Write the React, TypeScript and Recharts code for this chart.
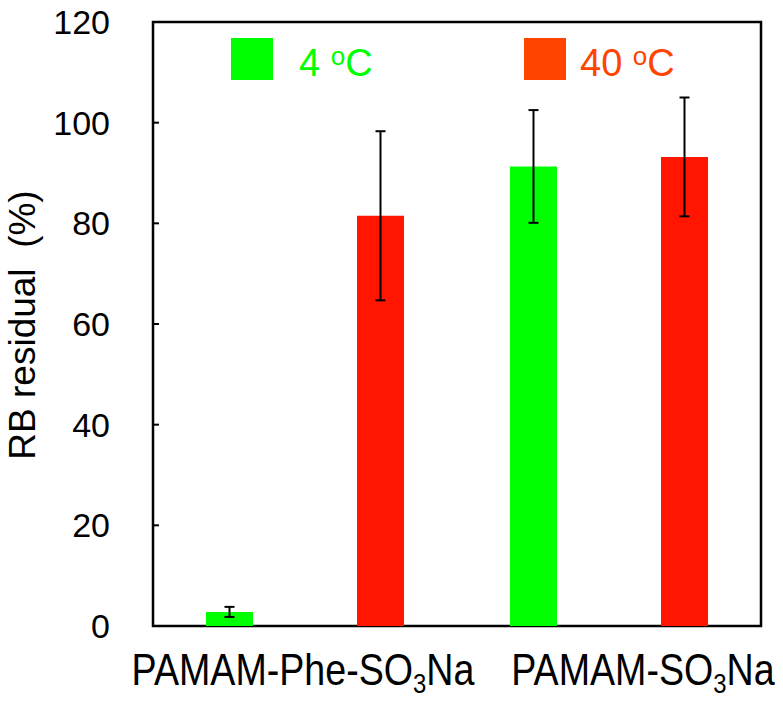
import React from "react";
import {
  BarChart,
  Bar,
  XAxis,
  YAxis,
  ErrorBar,
  ReferenceArea,
  Legend,
} from "recharts";

const categories = ["PAMAM-Phe-SO3Na", "PAMAM-SO3Na"];
const cold = [2.8, 91.3];
const coldErr = [1.0, 11.2];
const hot = [81.5, 93.2];
const hotErr = [16.8, 11.8];
const yTicks = [0, 20, 40, 60, 80, 100, 120];
const legendLabels = ["4", "40"];

const FONT = "'Liberation Sans', Arial, sans-serif";
const GREEN = "#00FF00";
const RED = "#FF1500";
const LEGEND_RED = "#FF4400";

const data = categories.map((name, i) => ({
  name,
  cold: cold[i],
  coldErr: coldErr[i],
  hot: hot[i],
  hotErr: hotErr[i],
}));

const XTick = (props: any) => {
  const { x, y, payload, index } = props;
  const parts = String(payload.value).split("3");
  const shift = index === 1 ? 34 : -2;
  return (
    <g transform={`translate(${x + shift},${y + 59}) scale(0.855,1)`}>
      <text textAnchor="middle" fontSize={44} fill="#000" fontFamily={FONT}>
        {parts[0]}
        <tspan fontSize={28} dy={8}>3</tspan>
        <tspan dy={-8}>{parts[1]}</tspan>
      </text>
    </g>
  );
};

const YLabel = () => (
  <text
    x={35}
    y={325}
    transform="rotate(-90,35,325)"
    textAnchor="middle"
    fontSize={37}
    fill="#000"
    fontFamily={FONT}
    style={{ whiteSpace: "pre" }}
  >
    {"RB residual  (%)"}
  </text>
);

const renderLegend = () => {
  const items = [
    { label: legendLabels[0], color: GREEN, box: 231, text: 299 },
    { label: legendLabels[1], color: LEGEND_RED, box: 524, text: 580 },
  ];
  return (
    <div style={{ position: "relative", width: 783, height: 100, fontFamily: FONT }}>
      {items.map((it) => (
        <React.Fragment key={it.label}>
          <div
            style={{
              position: "absolute",
              left: it.box,
              top: 38,
              width: 42,
              height: 42,
              background: it.color,
            }}
          />
          <div
            style={{
              position: "absolute",
              left: it.text,
              top: 42,
              fontSize: 38,
              lineHeight: "normal",
              color: it.color,
              whiteSpace: "pre",
            }}
          >
            {it.label + " "}
            <span style={{ fontSize: 26, position: "relative", top: -11 }}>o</span>C
          </div>
        </React.Fragment>
      ))}
    </div>
  );
};

export default function App() {
  return (
    <div style={{ position: "absolute", left: 0, top: 0, width: 783, height: 701, background: "#fff" }}>
      <BarChart
        width={783}
        height={701}
        data={data}
        margin={{ top: 22, right: 22, left: 0, bottom: 0 }}
        barSize={47}
        barGap={104}
      >
        <XAxis
          dataKey="name"
          height={75}
          axisLine={false}
          tickLine={false}
          tickSize={0}
          tickMargin={0}
          tick={<XTick />}
          interval={0}
        />
        <YAxis
          width={153}
          domain={[0, 120]}
          ticks={yTicks}
          interval={0}
          axisLine={false}
          tickSize={-6}
          tickMargin={49}
          tickLine={{ stroke: "#000", strokeWidth: 2 }}
          tick={{ fill: "#000", fontSize: 34, fontFamily: FONT }}
          label={<YLabel />}
        />
        <ReferenceArea y1={0} y2={120} fill="none" stroke="#000" strokeWidth={2.5} fillOpacity={0} />
        <Legend
          layout="horizontal"
          verticalAlign="middle"
          align="center"
          content={renderLegend}
          wrapperStyle={{ top: 0, left: 0, width: 783, height: 100 }}
        />
        <Bar dataKey="cold" fill={GREEN} isAnimationActive={false}>
          <ErrorBar dataKey="coldErr" width={5} stroke="#000" strokeWidth={2} direction="y" isAnimationActive={false} />
        </Bar>
        <Bar dataKey="hot" fill={RED} isAnimationActive={false}>
          <ErrorBar dataKey="hotErr" width={5} stroke="#000" strokeWidth={2} direction="y" isAnimationActive={false} />
        </Bar>
      </BarChart>
    </div>
  );
}
